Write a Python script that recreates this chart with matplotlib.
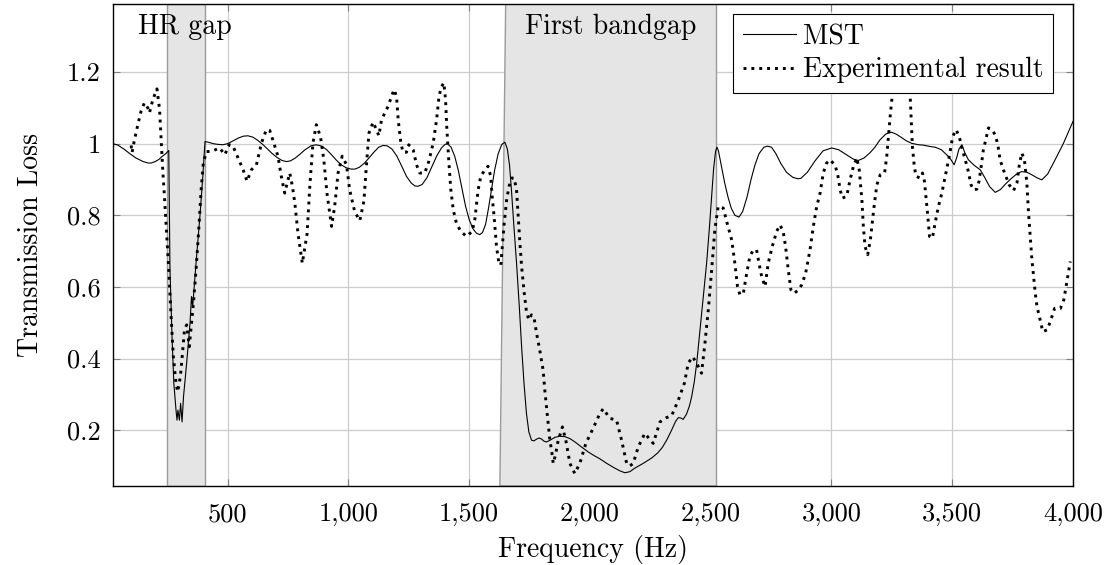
import matplotlib
matplotlib.use("Agg")
import matplotlib.pyplot as plt
from matplotlib.ticker import FuncFormatter

plt.rcParams['font.family'] = 'serif'
plt.rcParams['font.serif'] = ['cmr10', 'DejaVu Serif']
plt.rcParams['mathtext.fontset'] = 'cm'
plt.rcParams['axes.formatter.use_mathtext'] = True

# MST (simulation) transmission curve
mst_freq = [25, 45, 70, 95, 120, 150, 170, 183, 200, 215, 230, 245, 256, 258, 261, 270,
            277, 286, 290, 294, 300, 305, 311, 317, 330, 344, 350, 355, 369, 385, 397,
            406, 420, 440, 460, 480, 500, 520, 545, 565, 584, 605, 625, 645, 665, 685,
            705, 725, 743, 760, 780, 800, 820, 845, 867, 890, 910, 930, 950, 970, 990,
            1010, 1027, 1045, 1065, 1085, 1105, 1125, 1143, 1160, 1180, 1200, 1220, 1240,
            1260, 1275, 1288, 1305, 1325, 1345, 1365, 1385, 1400, 1410, 1425, 1440, 1455,
            1470, 1485, 1500, 1515, 1530, 1544, 1555, 1568, 1580, 1592, 1605, 1620, 1635,
            1648, 1658, 1667, 1675, 1685, 1696, 1707, 1717, 1727, 1737, 1747, 1758, 1768,
            1779, 1790, 1800, 1810, 1820, 1835, 1855, 1875, 1896, 1918, 1938, 1965, 1993,
            2017, 2041, 2070, 2100, 2125, 2145, 2165, 2186, 2220, 2255, 2280, 2300, 2320,
            2338, 2355, 2366, 2376, 2386, 2400, 2412, 2421, 2432, 2442, 2452, 2462, 2473,
            2483, 2494, 2504, 2512, 2520, 2526, 2532, 2545, 2558, 2572, 2585, 2600, 2617,
            2632, 2650, 2667, 2683, 2700, 2720, 2735, 2752, 2770, 2790, 2814, 2840, 2860,
            2873, 2900, 2932, 2965, 3001, 3030, 3060, 3090, 3111, 3135, 3160, 3180, 3200,
            3225, 3249, 3270, 3290, 3310, 3332, 3360, 3380, 3401, 3430, 3455, 3477, 3495,
            3508, 3518, 3528, 3540, 3552, 3567, 3590, 3616, 3635, 3655, 3678, 3700, 3720,
            3745, 3770, 3788, 3810, 3830, 3850, 3871, 3895, 3926, 3960, 4000]
mst_tl = [1.0, 0.996, 0.985, 0.972, 0.96, 0.95, 0.946, 0.946, 0.95, 0.956, 0.965, 0.973,
          0.981, 0.85, 0.648, 0.45, 0.331, 0.256, 0.228, 0.256, 0.228, 0.275, 0.223, 0.293,
          0.387, 0.499, 0.573, 0.545, 0.667, 0.797, 0.909, 1.006, 1.004, 1.0, 0.998, 0.997,
          1.0, 1.007, 1.016, 1.021, 1.022, 1.018, 1.009, 0.998, 0.985, 0.972, 0.961, 0.953,
          0.95, 0.952, 0.96, 0.971, 0.983, 0.994, 0.997, 0.993, 0.983, 0.969, 0.954, 0.941,
          0.933, 0.929, 0.929, 0.934, 0.945, 0.96, 0.976, 0.99, 0.995, 0.994, 0.985, 0.966,
          0.938, 0.909, 0.89, 0.882, 0.881, 0.886, 0.905, 0.935, 0.965, 0.988, 0.998, 1.0,
          0.99, 0.965, 0.925, 0.875, 0.825, 0.788, 0.763, 0.75, 0.746, 0.752, 0.775, 0.82,
          0.87, 0.925, 0.972, 0.998, 1.004, 0.985, 0.94, 0.87, 0.77, 0.667, 0.55, 0.433,
          0.33, 0.247, 0.195, 0.172, 0.17, 0.175, 0.178, 0.175, 0.169, 0.167, 0.172, 0.18,
          0.183, 0.182, 0.176, 0.167, 0.153, 0.139, 0.129, 0.12, 0.107, 0.095, 0.086,
          0.081, 0.084, 0.094, 0.107, 0.122, 0.136, 0.152, 0.175, 0.2, 0.225, 0.235, 0.234,
          0.23, 0.245, 0.268, 0.293, 0.335, 0.387, 0.455, 0.526, 0.6, 0.666, 0.76, 0.853,
          0.93, 0.978, 0.99, 0.98, 0.935, 0.89, 0.85, 0.82, 0.8, 0.795, 0.81, 0.85, 0.9,
          0.94, 0.972, 0.99, 0.993, 0.99, 0.972, 0.945, 0.92, 0.906, 0.902, 0.903, 0.92,
          0.952, 0.98, 0.988, 0.983, 0.97, 0.957, 0.953, 0.96, 0.975, 0.99, 1.01, 1.027,
          1.032, 1.026, 1.017, 1.008, 1.001, 0.997, 0.996, 0.993, 0.99, 0.983, 0.969,
          0.955, 0.941, 0.96, 0.985, 0.997, 0.975, 0.955, 0.94, 0.927, 0.905, 0.88, 0.864,
          0.872, 0.887, 0.903, 0.917, 0.922, 0.92, 0.913, 0.905, 0.899, 0.915, 0.955, 1.0,
          1.062]

# experimental transmission curve
exp_freq = [100, 104, 114, 128, 141, 155, 169, 176, 190, 207, 218, 224, 231, 238, 248,
            256, 265, 275, 286, 293, 304, 314, 321, 330, 341, 350, 358, 369, 380, 390,
            399, 412, 431, 467, 488, 506, 522, 543, 564, 580, 598, 619, 640, 660, 674,
            691, 708, 722, 736, 750, 757, 768, 778, 791, 809, 829, 840, 853, 867, 884,
            898, 911, 930, 943, 957, 974, 992, 1005, 1026, 1047, 1064, 1074, 1085, 1102,
            1116, 1126, 1137, 1164, 1181, 1189, 1199, 1206, 1217, 1226, 1240, 1250, 1268,
            1282, 1295, 1316, 1333, 1351, 1365, 1375, 1385, 1395, 1402, 1407, 1416, 1424,
            1434, 1447, 1465, 1489, 1512, 1523, 1537, 1548, 1565, 1578, 1589, 1595, 1603,
            1613, 1623, 1631, 1637, 1645, 1655, 1665, 1676, 1686, 1696, 1703, 1710, 1717,
            1728, 1737, 1747, 1758, 1769, 1779, 1792, 1806, 1813, 1820, 1827, 1834, 1841,
            1848, 1857, 1868, 1886, 1900, 1917, 1937, 1958, 1983, 2013, 2040, 2055, 2082,
            2110, 2131, 2152, 2165, 2179, 2200, 2227, 2262, 2290, 2317, 2338, 2366, 2391,
            2407, 2425, 2442, 2462, 2476, 2490, 2504, 2517, 2531, 2552, 2570, 2587, 2600,
            2611, 2621, 2635, 2649, 2662, 2676, 2690, 2700, 2711, 2725, 2738, 2755, 2773,
            2787, 2800, 2810, 2821, 2832, 2846, 2863, 2877, 2893, 2911, 2925, 2939, 2953,
            2966, 2980, 2994, 3015, 3026, 3036, 3045, 3063, 3077, 3091, 3105, 3115, 3126,
            3132, 3139, 3150, 3161, 3170, 3178, 3188, 3202, 3220, 3229, 3236, 3243, 3250,
            3265, 3290, 3315, 3326, 3330, 3335, 3343, 3350, 3367, 3377, 3385, 3391, 3399,
            3406, 3418, 3429, 3443, 3457, 3471, 3488, 3502, 3516, 3529, 3540, 3554, 3565,
            3578, 3588, 3602, 3611, 3620, 3629, 3639, 3650, 3664, 3678, 3689, 3698, 3712,
            3722, 3736, 3754, 3768, 3777, 3788, 3799, 3809, 3816, 3823, 3830, 3837, 3844,
            3851, 3861, 3875, 3893, 3906, 3924, 3948, 3962, 3976, 3989]
exp_tl = [0.995, 0.975, 1.011, 1.053, 1.09, 1.114, 1.1, 1.086, 1.123, 1.153, 1.095, 1.02,
          0.927, 0.853, 0.741, 0.648, 0.526, 0.405, 0.331, 0.307, 0.349, 0.424, 0.48,
          0.494, 0.433, 0.498, 0.554, 0.648, 0.759, 0.871, 0.946, 0.978, 0.978, 0.988,
          0.969, 0.997, 0.993, 0.96, 0.927, 0.895, 0.927, 0.941, 1.002, 1.039, 1.037,
          1.002, 0.965, 0.909, 0.862, 0.899, 0.918, 0.881, 0.834, 0.75, 0.666, 0.75,
          0.881, 1.002, 1.053, 1.02, 0.955, 0.862, 0.769, 0.825, 0.918, 0.965, 0.941,
          0.871, 0.81, 0.785, 0.84, 0.935, 1.03, 1.06, 1.039, 1.022, 1.067, 1.104, 1.137,
          1.151, 1.132, 1.067, 1.002, 0.976, 0.976, 0.997, 0.983, 0.941, 0.918, 0.918,
          0.951, 1.002, 1.067, 1.132, 1.159, 1.17, 1.123, 1.048, 0.946, 0.871, 0.815,
          0.778, 0.755, 0.741, 0.755, 0.787, 0.871, 0.909, 0.927, 0.937, 0.909, 0.853,
          0.797, 0.713, 0.666, 0.661, 0.713, 0.778, 0.843, 0.881, 0.904, 0.904, 0.871,
          0.797, 0.722, 0.657, 0.582, 0.531, 0.508, 0.522, 0.512, 0.47, 0.424, 0.368,
          0.312, 0.265, 0.219, 0.172, 0.144, 0.107, 0.13, 0.17, 0.209, 0.172, 0.107,
          0.079, 0.107, 0.163, 0.205, 0.245, 0.26, 0.233, 0.228, 0.172, 0.107, 0.1,
          0.107, 0.153, 0.191, 0.163, 0.223, 0.235, 0.24, 0.284, 0.331, 0.387, 0.405,
          0.387, 0.359, 0.442, 0.536, 0.648, 0.759, 0.825, 0.82, 0.773, 0.731, 0.666,
          0.601, 0.578, 0.582, 0.638, 0.685, 0.703, 0.703, 0.666, 0.629, 0.601, 0.666,
          0.713, 0.755, 0.773, 0.755, 0.713, 0.648, 0.592, 0.582, 0.592, 0.606, 0.638,
          0.703, 0.769, 0.825, 0.862, 0.918, 0.946, 0.955, 0.94, 0.913, 0.871, 0.848,
          0.853, 0.899, 0.937, 0.96, 0.927, 0.843, 0.769, 0.713, 0.69, 0.731, 0.787,
          0.834, 0.885, 0.913, 0.918, 0.965, 1.02, 1.076, 1.123, 1.2, 1.25, 1.2, 1.132,
          1.067, 0.993, 0.937, 0.909, 0.904, 0.918, 0.895, 0.853, 0.797, 0.741, 0.736,
          0.778, 0.825, 0.862, 0.909, 0.965, 1.02, 1.039, 1.02, 0.988, 0.955, 0.927,
          0.885, 0.871, 0.873, 0.895, 0.937, 0.983, 1.011, 1.044, 1.039, 1.025, 0.997,
          0.955, 0.927, 0.909, 0.885, 0.869, 0.89, 0.937, 0.974, 0.955, 0.89, 0.806,
          0.741, 0.676, 0.629, 0.582, 0.545, 0.517, 0.475, 0.48, 0.503, 0.54, 0.54,
          0.564, 0.62, 0.671]

# shaded gap regions (Hz)
hr_gap = [250, 405]
band_gap_left = [1627, 1651]   # bottom, top (edge is slightly slanted)
band_gap_right = 2524

x_ticks = [500, 1000, 1500, 2000, 2500, 3000, 3500, 4000]
y_ticks = [0.2, 0.4, 0.6, 0.8, 1.0, 1.2]
x_range = [25, 4000]
y_range = [0.044, 1.39]

fig = plt.figure(figsize=(11.12, 5.65), dpi=100)
ax = fig.add_axes([0.1016, 0.1398, 0.8633, 0.8531])
ax.set_xlim(x_range)
ax.set_ylim(y_range)

ax.grid(True, color='#cccccc', linewidth=0.9, zorder=0)
ax.set_axisbelow(True)

lo, hi = y_range
ax.fill([hr_gap[0], hr_gap[0], hr_gap[1], hr_gap[1]], [lo, hi, hi, lo],
        facecolor='#e5e5e5', edgecolor='#9a9a9a', linewidth=1.0, zorder=1)
ax.fill([band_gap_left[0], band_gap_left[1], band_gap_right, band_gap_right], [lo, hi, hi, lo],
        facecolor='#e5e5e5', edgecolor='#9a9a9a', linewidth=1.0, zorder=1)

ax.plot(mst_freq, mst_tl, color='black', linewidth=0.8, label='MST', zorder=3)
ax.plot(exp_freq, exp_tl, color='black', linewidth=2.1, linestyle=(0, (1, 1.7)),
        label='Experimental result', zorder=3)

ax.text(322, 1.327, 'HR gap', ha='center', va='center', fontsize=20, zorder=4)
ax.text(2087, 1.327, 'First bandgap', ha='center', va='center', fontsize=20, zorder=4)

ax.set_xticks(x_ticks)
ax.set_yticks(y_ticks)
ax.xaxis.set_major_formatter(FuncFormatter(lambda v, p: f'{v:,.0f}'))
ax.yaxis.set_major_formatter(FuncFormatter(lambda v, p: f'{v:g}'))
ax.tick_params(direction='in', length=5, color='#808080', labelsize=19,
               top=True, right=True)
ax.tick_params(axis='x', pad=12)
ax.tick_params(axis='y', pad=9)
for s in ax.spines.values():
    s.set_linewidth(1.0)
    s.set_zorder(5)

ax.set_xlabel('Frequency (Hz)', fontsize=20, labelpad=6)
ax.set_ylabel('Transmission Loss', fontsize=20, labelpad=16)

leg = ax.legend(loc='upper right', bbox_to_anchor=(0.979, 0.979), borderaxespad=0,
                fontsize=20, handlelength=1.9, handletextpad=0.25, fancybox=False,
                framealpha=1, edgecolor='black', borderpad=0.35, labelspacing=0.25)
leg.get_frame().set_linewidth(0.8)
leg.set_zorder(6)

fig.savefig('out.png', dpi=100)
